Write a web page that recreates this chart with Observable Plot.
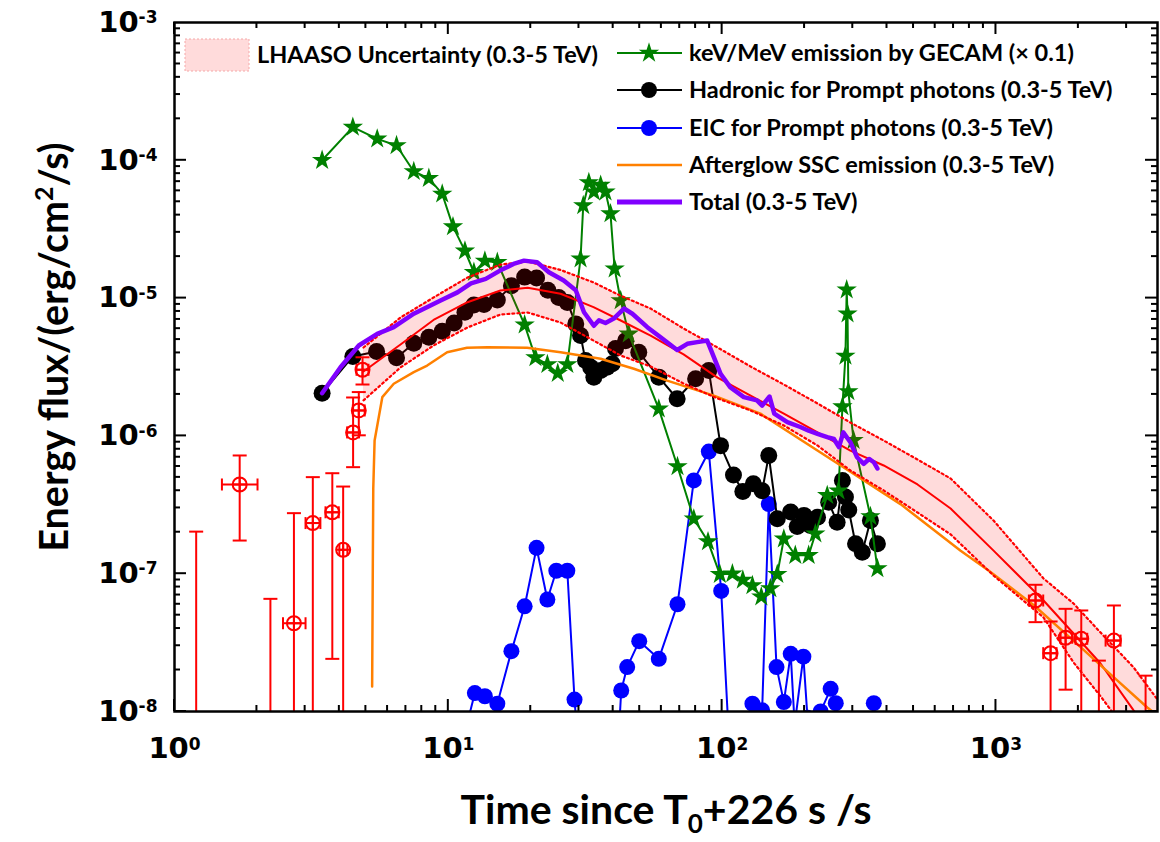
<!DOCTYPE html>
<html><head><meta charset="utf-8">
<script src="https://cdn.jsdelivr.net/npm/d3@7"></script>
<script src="https://cdn.jsdelivr.net/npm/@observablehq/plot@0.6"></script>
<style>body{margin:0;background:#fff}#chart{width:1160px;height:842px}</style>
</head><body><div id="chart"></div>
<script>
// ---------- DATA (time [s], energy flux [erg/cm^2/s]) ----------
const gecam = [[3.46,1.0e-4],[4.48,1.74e-4],[5.50,1.43e-4],[6.47,1.28e-4],[7.48,8.3e-5],[8.49,7.4e-5],[9.50,5.7e-5],[10.4,3.3e-5],[11.5,2.2e-5],[12.4,1.54e-5],[13.6,1.86e-5],[15.1,1.82e-5],[19.0,6.4e-6],[20.8,3.7e-6],[23.0,3.3e-6],[25.1,2.85e-6],[27.2,3.3e-6],[30.4,1.93e-5],[31.1,4.7e-5],[32.6,6.9e-5],[34.0,5.9e-5],[36.0,6.6e-5],[37.5,5.9e-5],[39.1,4.1e-5],[40.5,1.63e-5],[42.6,9.6e-6],[45.6,5.5e-6],[58.7,1.57e-6],[68.7,6.0e-7],[78.8,2.5e-7],[88.8,1.71e-7],[98.1,9.9e-8],[109,1.0e-7],[119,9.0e-8],[129,8.2e-8],[139,6.8e-8],[150,7.8e-8],[159,9.9e-8],[168,1.79e-7],[185,1.36e-7],[207,1.36e-7],[219,1.95e-7],[242,3.7e-7],[266,4.0e-7],[275,1.63e-6],[282,3.8e-6],[285,1.15e-5],[287,7.7e-6],[289,2.1e-6],[302,9.3e-7],[348,2.6e-7],[369,1.09e-7]];
const hadronic = [[3.46,2.04e-6],[4.48,3.77e-6],[5.47,4.1e-6],[6.47,3.69e-6],[7.48,4.7e-6],[8.49,5.2e-6],[9.5,5.75e-6],[10.5,6.6e-6],[11.5,7.9e-6],[12.4,8.9e-6],[13.5,9.0e-6],[15.1,9.7e-6],[17.0,1.23e-5],[19.0,1.42e-5],[21.0,1.40e-5],[23.1,1.14e-5],[25.3,1.01e-5],[27.2,9.3e-6],[29.2,6.5e-6],[30.4,5.35e-6],[31.7,3.52e-6],[33.1,3.15e-6],[34.0,2.67e-6],[36.0,2.98e-6],[38.0,3.15e-6],[39.7,3.34e-6],[40.8,4.3e-6],[44.4,4.9e-6],[49.6,4.05e-6],[58.7,2.67e-6],[68.5,1.86e-6],[80.0,2.6e-6],[89.4,2.98e-6],[98.7,8.5e-7],[110,5.2e-7],[119,3.95e-7],[130,4.5e-7],[140,4.0e-7],[148,7.2e-7],[159,2.5e-7],[178,2.8e-7],[188,2.2e-7],[199,2.65e-7],[210,2.24e-7],[223,2.57e-7],[245,3.3e-7],[263,2.36e-7],[275,4.75e-7],[282,3.6e-7],[290,2.9e-7],[307,1.65e-7],[325,1.43e-7],[348,2.43e-7],[369,1.65e-7]];
const eic = [[11.0,5e-9],[12.5,1.36e-8],[13.6,1.29e-8],[15.1,1.14e-8],[17.0,2.74e-8],[19.0,5.8e-8],[21.0,1.54e-7],[23.0,6.5e-8],[24.8,1.05e-7],[27.2,1.05e-7],[28.9,1.22e-8],[30.5,3e-9],[41.0,3e-9],[42.8,1.42e-8],[45.0,2.1e-8],[49.8,3.24e-8],[58.7,2.41e-8],[68.7,6.0e-8],[78.8,4.75e-7],[89.4,7.7e-7],[99.2,7.5e-8],[108,3e-9],[127,3e-9],[129,1.14e-8],[140,1.02e-8],[148,3.2e-7],[158,2.1e-8],[168,1.17e-8],[178,2.62e-8],[184,8e-9],[198,2.5e-8],[205,9e-9],[229,1.0e-8],[249,1.46e-8],[260,1.15e-8],[300,3e-9],[350,3e-9],[358,1.15e-8]];
const ssc = [[5.27,1.52e-8],[5.30,1.19e-7],[5.32,4.15e-7],[5.38,9.26e-7],[5.74,1.91e-6],[6.32,2.39e-6],[7.48,2.9e-6],[8.37,3.24e-6],[9.9,4.05e-6],[11.7,4.36e-6],[13.9,4.4e-6],[19.4,4.36e-6],[25.7,4.05e-6],[36.0,3.63e-6],[47.6,3.07e-6],[63.0,2.52e-6],[93.3,1.96e-6],[138,1.45e-6],[271,6.1e-7],[448,3.2e-7],[743,1.47e-7],[942,1.05e-7],[1375,5.9e-8],[2037,2.93e-8],[2696,1.77e-8],[3570,1.07e-8],[4342,7.9e-9]];
const total = [[3.46,2.04e-6],[4.04,3.15e-6],[4.71,4.53e-6],[5.50,5.5e-6],[6.32,6.15e-6],[7.48,7.7e-6],[9.37,9.6e-6],[10.8,1.10e-5],[12.1,1.28e-5],[13.7,1.38e-5],[15.5,1.59e-5],[17.3,1.77e-5],[18.9,1.87e-5],[21.1,1.82e-5],[23.3,1.54e-5],[26.4,1.34e-5],[29.2,1.14e-5],[31.3,7.9e-6],[34.0,6.3e-6],[35.5,6.9e-6],[37.5,6.6e-6],[40.2,7.1e-6],[43.8,8.4e-6],[47.0,7.7e-6],[53.3,6.15e-6],[59.6,5.2e-6],[68.5,4.2e-6],[74.6,4.66e-6],[81.1,4.79e-6],[88.2,4.92e-6],[98.7,2.82e-6],[107,2.26e-6],[120,1.91e-6],[134,1.81e-6],[140,1.66e-6],[149,1.93e-6],[155,1.45e-6],[173,1.26e-6],[193,1.16e-6],[207,1.09e-6],[223,1.035e-6],[242,9.8e-7],[256,9.5e-7],[267,8.3e-7],[277,1.06e-6],[294,9.0e-7],[311,7.0e-7],[329,6.27e-7],[344,6.8e-7],[358,6.44e-7],[369,5.8e-7]];
// LHAASO uncertainty band
const bandT   = [4.90,6.69,8.83,11.75,15.5,19.5,25.7,33.9,42.6,54.8,72.3,96.2,127,168,223,294,389,517,683,980,1492,1920,2410,3182,3990];
const bandMid = [2.93e-6,4.61e-6,6.94e-6,9.34e-6,1.136e-5,1.188e-5,1.075e-5,8.59e-6,6.88e-6,5.35e-6,3.90e-6,2.65e-6,1.96e-6,1.45e-6,1.06e-6,7.83e-7,6.10e-7,4.44e-7,2.97e-7,1.47e-7,6.39e-8,3.68e-8,2.23e-8,1.02e-8,5.67e-9];
const bandHi  = [4.38e-6,7.23e-6,1.01e-5,1.41e-5,1.75e-5,1.84e-5,1.60e-5,1.30e-5,1.04e-5,8.40e-6,6.02e-6,4.38e-6,3.19e-6,2.36e-6,1.72e-6,1.25e-6,9.26e-7,6.74e-7,4.91e-7,2.43e-7,9.23e-8,6.08e-8,3.74e-8,2.09e-8,1.14e-8];
const bandLo  = [1.81e-6,3.14e-6,4.53e-6,6.12e-6,7.60e-6,7.86e-6,6.65e-6,4.92e-6,3.83e-6,3.19e-6,2.40e-6,1.87e-6,1.53e-6,1.19e-6,8.52e-7,5.61e-7,4.02e-7,2.78e-7,1.93e-7,9.70e-8,4.81e-8,2.27e-8,1.29e-8,6.16e-9,3.43e-9];
// LHAASO measured points: t, flux (null = no marker), flux low (1e-9 = off-scale), flux high, t low, t high
const lhT   = [1.20,1.73,2.24,2.73,3.20,3.77,4.13,4.49,4.71,4.86,1395,1583,1796,2049,2376,2696,3519];
const lhF   = [null,4.44e-7,null,4.37e-8,2.33e-7,2.79e-7,1.49e-7,1.06e-6,1.53e-6,3.02e-6,6.39e-8,2.65e-8,3.43e-8,3.37e-8,null,3.27e-8,null];
const lhLo  = [1e-9,1.74e-7,1e-9,1e-9,1e-9,2.41e-8,1e-9,5.93e-7,1.01e-6,2.36e-6,4.45e-8,1e-9,1.44e-8,1e-9,1e-9,1e-9,1e-9];
const lhHi  = [2.02e-7,7.21e-7,6.57e-8,2.75e-7,5.02e-7,5.36e-7,4.29e-7,1.9e-6,2.08e-6,3.72e-6,8.31e-8,4.5e-8,5.56e-8,5.41e-8,2.34e-8,5.88e-8,1.82e-8];
const lhTlo = [null,1.49,null,2.49,3.01,3.56,4.0,4.27,4.48,4.62,1319,1488,1722,1953,null,2514,null];
const lhThi = [null,2.01,null,3.01,3.41,3.98,4.28,4.72,4.95,5.11,1488,1665,1899,2155,null,2851,null];
// axis ticks
const xTicks = [1,10,100,1000];
const yTicks = [1e-8,1e-7,1e-6,1e-5,1e-4,1e-3];
const legendLabels = ["LHAASO Uncertainty (0.3-5 TeV)","keV/MeV emission by GECAM (\u00d7 0.1)","Hadronic for Prompt photons (0.3-5 TeV)","EIC for Prompt photons (0.3-5 TeV)","Afterglow SSC emission (0.3-5 TeV)","Total (0.3-5 TeV)"];

// ---------- build tables ----------
const pts = a => a.map(([t,f]) => ({t,f}));
const band = bandT.map((t,i) => ({t, mid: bandMid[i], hi: bandHi[i], lo: bandLo[i]}));
const lh = lhT.map((t,i) => ({t, f: lhF[i], lo: lhLo[i], hi: lhHi[i], tlo: lhTlo[i], thi: lhThi[i]}));

const C = {green:"#008000", black:"#000000", blue:"#0000FF", orange:"#FF8000", purple:"#8000FF", red:"#FF0000"};

const capH = {draw(ctx, size){const r=Math.sqrt(size/Math.PI); ctx.moveTo(-r,0); ctx.lineTo(r,0);}};
const capV = {draw(ctx, size){const r=Math.sqrt(size/Math.PI); ctx.moveTo(0,-r); ctx.lineTo(0,r);}};
const circlePlus = {draw(ctx, size){const r=Math.sqrt(size/Math.PI); ctx.moveTo(r,0); ctx.arc(0,0,r,0,2*Math.PI); ctx.moveTo(-r,0); ctx.lineTo(r,0); ctx.moveTo(0,-r); ctx.lineTo(0,r);}};

const fmt = d => "10^" + Math.round(Math.log10(d));
const tickFont = {fontSize: 29, fontWeight: "bold", fontFamily: "DejaVu Sans"};

const chart = Plot.plot({
  width: 1160, height: 842,
  marginLeft: 174, marginRight: 3, marginTop: 22, marginBottom: 131,
  x: {type: "log", domain: [1, 3890]},
  y: {type: "log", domain: [1e-8, 1e-3]},
  style: {background: "white", overflow: "visible"},
  marks: [
    Plot.axisX({ticks: xTicks, tickFormat: fmt, tickSize: 0, tickPadding: 26, label: null, ...tickFont}),
    Plot.axisY({ticks: yTicks, tickFormat: fmt, tickSize: 0, tickPadding: 17, label: null, ...tickFont}),
    // EIC
    Plot.line(pts(eic), {x: "t", y: "f", stroke: C.blue, strokeWidth: 2, clip: true}),
    Plot.dot(pts(eic), {x: "t", y: "f", r: 8, fill: C.blue, clip: true}),
    // Hadronic
    Plot.line(pts(hadronic), {x: "t", y: "f", stroke: C.black, strokeWidth: 2, clip: true}),
    Plot.dot(pts(hadronic), {x: "t", y: "f", r: 8.5, fill: C.black, clip: true}),
    // GECAM
    Plot.line(pts(gecam), {x: "t", y: "f", stroke: C.green, strokeWidth: 2, clip: true}),
    Plot.dot(pts(gecam), {x: "t", y: "f", symbol: "star", r: 6.4, fill: C.green, clip: true}),
    // LHAASO band
    Plot.areaY(band, {x: "t", y1: "lo", y2: "hi", fill: C.red, fillOpacity: 0.14, clip: true}),
    Plot.line(band, {x: "t", y: "hi", stroke: C.red, strokeWidth: 2.2, strokeDasharray: "2,3", clip: true}),
    Plot.line(band, {x: "t", y: "mid", stroke: C.red, strokeWidth: 2, clip: true}),
    // SSC
    Plot.line(pts(ssc), {x: "t", y: "f", stroke: C.orange, strokeWidth: 2.5, clip: true}),
    Plot.line(band, {x: "t", y: "lo", stroke: C.red, strokeWidth: 2.2, strokeDasharray: "2,3", clip: true}),
    // LHAASO points
    Plot.ruleX(lh, {x: "t", y1: "lo", y2: "hi", stroke: C.red, strokeWidth: 2, clip: true}),
    Plot.ruleY(lh.filter(d => d.tlo != null), {y: "f", x1: "tlo", x2: "thi", stroke: C.red, strokeWidth: 2, clip: true}),
    Plot.dot(lh, {x: "t", y: "hi", symbol: capH, r: 7, stroke: C.red, strokeWidth: 2, clip: true}),
    Plot.dot(lh.filter(d => d.lo > 1e-8), {x: "t", y: "lo", symbol: capH, r: 7, stroke: C.red, strokeWidth: 2, clip: true}),
    Plot.dot(lh.filter(d => d.tlo != null), {x: "tlo", y: "f", symbol: capV, r: 6, stroke: C.red, strokeWidth: 2, clip: true}),
    Plot.dot(lh.filter(d => d.tlo != null), {x: "thi", y: "f", symbol: capV, r: 6, stroke: C.red, strokeWidth: 2, clip: true}),
    Plot.dot(lh.filter(d => d.f != null), {x: "t", y: "f", symbol: circlePlus, r: 7, stroke: C.red, strokeWidth: 2, fill: "none", clip: true}),
    // Total
    Plot.line(pts(total), {x: "t", y: "f", stroke: C.purple, strokeWidth: 4.5, clip: true}),
    Plot.frame({stroke: "#000", strokeWidth: 2.5})
  ]
});
document.getElementById("chart").appendChild(chart);

const svg = d3.select(chart);
// superscript tick labels
svg.selectAll('g[aria-label="x-axis tick label"] text, g[aria-label="y-axis tick label"] text').each(function() {
  const [b, e] = this.textContent.split("^");
  this.textContent = b;
  d3.select(this).append("tspan").attr("dy", "-0.5em").attr("font-size", "17px").text(e);
});

// inward ticks on all four sides via the plot's scales
const xs = chart.scale("x"), ys = chart.scale("y");
const [xa, xb] = xs.range, [yb, ya] = ys.range;
const tg = svg.append("g").attr("stroke", "#000").attr("stroke-width", 2);
for (let d = 0; d < 4; d++) for (let m = 1; m < 10; m++) {
  const v = m * 10 ** d; if (v > xs.domain[1]) break;
  const X = xs.apply(v), L = m === 1 ? 12 : 6;
  tg.append("line").attr("x1", X).attr("x2", X).attr("y1", yb).attr("y2", yb - L);
  tg.append("line").attr("x1", X).attr("x2", X).attr("y1", ya).attr("y2", ya + L);
}
for (let d = -8; d < -3; d++) for (let m = 1; m < 10; m++) {
  const Y = ys.apply(m * 10 ** d), L = m === 1 ? 12 : 6;
  tg.append("line").attr("y1", Y).attr("y2", Y).attr("x1", xa).attr("x2", xa + L);
  tg.append("line").attr("y1", Y).attr("y2", Y).attr("x1", xb).attr("x2", xb - L);
}

// axis titles
const tf = "Lato, 'Open Sans', sans-serif";
const yt = svg.append("text").attr("transform", "translate(68,347) rotate(-90)").attr("text-anchor", "middle")
  .attr("font-family", tf).attr("font-weight", "bold").attr("font-size", 39.5).attr("fill", "#000");
yt.append("tspan").text("Energy flux/(erg/cm");
yt.append("tspan").attr("dy", -15).attr("font-size", 25).text("2");
yt.append("tspan").attr("dy", 15).text("/s)");
const xt = svg.append("text").attr("x", 666).attr("y", 824).attr("text-anchor", "middle")
  .attr("font-family", tf).attr("font-weight", "bold").attr("font-size", 41).attr("fill", "#000");
xt.append("tspan").text("Time since T");
xt.append("tspan").attr("dy", 9).attr("font-size", 26).text("0");
xt.append("tspan").attr("dy", -9).text("+226 s /s");

// legend
const lg = svg.append("g").attr("font-family", tf).attr("font-weight", "bold").attr("font-size", 23.5).attr("text-anchor", "start");
lg.append("rect").attr("x", 185).attr("y", 39).attr("width", 64).attr("height", 32)
  .attr("fill", C.red).attr("fill-opacity", 0.14).attr("stroke", "#f5a8a8").attr("stroke-dasharray", "2,2");
lg.append("text").attr("x", 257).attr("y", 55).attr("dy", "0.36em").text(legendLabels[0]);
const rows = [
  {y: 53, c: C.green, w: 2, m: "star"},
  {y: 90, c: C.black, w: 2, m: "dot"},
  {y: 128, c: C.blue, w: 2, m: "dot"},
  {y: 165, c: C.orange, w: 2.5, m: null},
  {y: 202, c: C.purple, w: 5, m: null}
];
rows.forEach((r, i) => {
  lg.append("line").attr("x1", 617).attr("x2", 682).attr("y1", r.y).attr("y2", r.y).attr("stroke", r.c).attr("stroke-width", r.w);
  if (r.m === "star") lg.append("path").attr("transform", `translate(649,${r.y})`).attr("d", d3.symbol(d3.symbolStar, Math.PI * 6.4 * 6.4)()).attr("fill", r.c);
  if (r.m === "dot") lg.append("circle").attr("cx", 649).attr("cy", r.y).attr("r", 8).attr("fill", r.c);
  lg.append("text").attr("x", 689).attr("y", r.y).attr("dy", "0.36em").text(legendLabels[i + 1]);
});
</script></body></html>
